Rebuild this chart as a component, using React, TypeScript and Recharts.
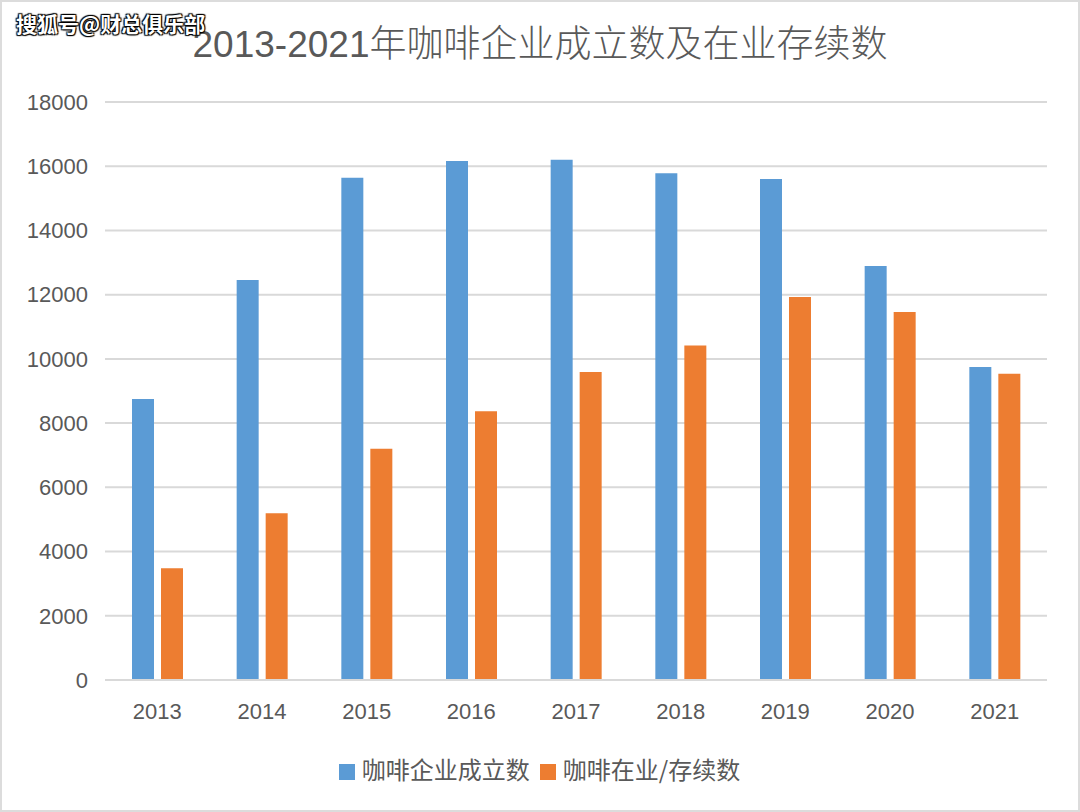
import React from 'react';
import { BarChart, Bar, XAxis, YAxis, CartesianGrid, Legend } from 'recharts';

// values
const years = ['2013', '2014', '2015', '2016', '2017', '2018', '2019', '2020', '2021'];
const established = [8750, 12460, 15640, 16160, 16200, 15780, 15600, 12890, 9750];
const operating = [3480, 5190, 7200, 8370, 9590, 10420, 11930, 11460, 9540];
const yTicks = [0, 2000, 4000, 6000, 8000, 10000, 12000, 14000, 16000, 18000];

const data = years.map((year, i) => ({
  year,
  established: established[i],
  operating: operating[i],
}));

const textColor = '#595959';
const gridColor = '#d9d9d9';
const font = '"Liberation Sans", "Noto Sans CJK SC", sans-serif';

const App: React.FC = () => {
  return (
    <div
      style={{
        position: 'absolute',
        left: 0,
        top: 0,
        width: 1080,
        height: 812,
        background: '#fff',
        boxSizing: 'border-box',
        border: '2px solid #dcdcdc',
        fontFamily: font,
      }}
    >
      {/* watermark */}
      <div
        style={{
          position: 'absolute',
          left: 14,
          top: 6,
          fontSize: 21,
          color: '#fff',
          fontFamily: '"Noto Sans CJK SC", sans-serif',
          fontWeight: 700,
          textShadow: '1px 1px 1px #000, -1px -1px 1px #000, 1px -1px 1px #000, -1px 1px 1px #000',
          zIndex: 2,
        }}
      >
        搜狐号@财总俱乐部
      </div>

      {/* title */}
      <div
        style={{
          position: 'absolute',
          left: 0,
          top: 19,
          width: 1076,
          textAlign: 'center',
          fontSize: 37,
          color: textColor,
          fontFamily: font,
          fontWeight: 300,
          lineHeight: '48px',
        }}
      >
        2013-2021年咖啡企业成立数及在业存续数
      </div>

      <div style={{ position: 'absolute', left: -2, top: -2 }}>
        <BarChart
          width={1080}
          height={812}
          data={data}
          margin={{ top: 102, right: 33, left: 10, bottom: 28 }}
          barSize={22}
          barGap={7}
        >
          <CartesianGrid vertical={false} stroke={gridColor} strokeWidth={2} />
          <XAxis
            dataKey="year"
            height={74}
            tickLine={false}
            axisLine={{ stroke: gridColor, strokeWidth: 2 }}
            tickSize={6}
            tickMargin={17}
            tick={{ fill: textColor, fontSize: 22, fontFamily: font }}
          />
          <YAxis
            width={95}
            domain={[0, 18000]}
            ticks={yTicks}
            interval={0}
            tickLine={false}
            axisLine={false}
            tickSize={6}
            tickMargin={11}
            tick={{ fill: textColor, fontSize: 22, fontFamily: font }}
          />
          <Legend
            verticalAlign="bottom"
            align="center"
            iconType="square"
            iconSize={16}
            wrapperStyle={{
              fontSize: 24,
              lineHeight: '30px',
              paddingLeft: 16,
              fontFamily: '"Noto Sans CJK SC", sans-serif',
            }}
            formatter={(value) => <span style={{ color: textColor, marginLeft: 3 }}>{value}</span>}
          />
          <Bar dataKey="established" name="咖啡企业成立数" fill="#5b9bd5" isAnimationActive={false} />
          <Bar dataKey="operating" name="咖啡在业/存续数" fill="#ed7d31" isAnimationActive={false} />
        </BarChart>
      </div>
    </div>
  );
};

export default App;
